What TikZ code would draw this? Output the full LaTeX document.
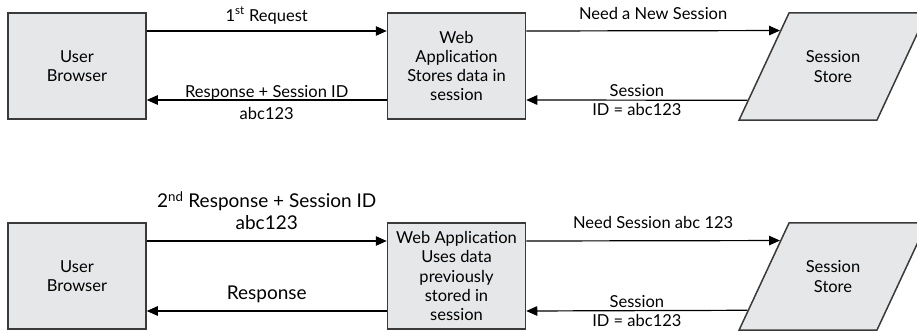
\documentclass[tikz,border=0pt]{standalone}
\usepackage{fontspec}
\setmainfont{Lato}
\usetikzlibrary{arrows.meta,shapes.geometric,calc}
\definecolor{boxgray}{HTML}{E6E7E8}
\definecolor{edgegray}{HTML}{3A3A3A}
\tikzset{
    box/.style={draw=edgegray,line width=1.5pt,fill=boxgray,minimum width=138,minimum height=106,
        align=center,inner sep=2pt,font=\fontsize{16.5}{19.3}\selectfont},
    store/.style={box,trapezium,trapezium left angle=65,trapezium right angle=115,
        trapezium stretches body=true,inner xsep=2pt,inner ysep=38pt,minimum width=188,minimum height=107},
    flow/.style={line width=1.2pt,-{Triangle[length=11pt,width=9.5pt]}},
    lbl/.style={font=\fontsize{16.5}{19}\selectfont,align=center},
    biglbl/.style={font=\fontsize{19}{22.5}\selectfont,align=center}
}
\begin{document}
\begin{tikzpicture}[x=1pt,y=-1pt]
    \useasboundingbox (0,0) rectangle (917,331);
    \foreach \row/\yc in {1/66,2/276} {
        \node[box] (user\row) at (77,\yc) {User\\Browser};
        \node[store] (store\row) at (833,\yc+0.5) {Session\\Store};
        \coordinate (in\row) at ($(store\row.bottom left corner)!0.83!(store\row.top left corner)$);
        \coordinate (out\row) at ($(store\row.bottom left corner)!0.19!(store\row.top left corner)$);
    }
    \node[box] (web1) at (456.5,66) {Web\\Application\\Stores data in\\session};
    \node[box] (web2) at (456.5,276) {Web Application\\Uses data\\previously\\stored in\\session};
    % first request
    \draw[flow] ([yshift=35pt]user1.east) -- node[lbl,above=3pt] {1\textsuperscript{st} Request} ([yshift=35pt]web1.west);
    \draw[flow] ([yshift=-34pt]web1.west) -- node[lbl,font=\fontsize{16.5}{22}\selectfont,yshift=-3pt] {Response + Session ID\\abc123} ([yshift=-34pt]user1.east);
    \draw[flow] ([yshift=35pt]web1.east) -- node[lbl,above=7pt] {Need a New Session} (in1);
    \draw[flow] (out1) -- node[lbl] {Session\\ID = abc123} ([yshift=-34pt]web1.east);
    % second request
    \draw[flow] ([yshift=35pt]user2.east) -- node[biglbl,above=7pt] {2\textsuperscript{nd} Response + Session ID\\abc123} ([yshift=35pt]web2.west);
    \draw[flow] ([yshift=-35pt]web2.west) -- node[biglbl,above=4pt] {Response} ([yshift=-35pt]user2.east);
    \draw[flow] ([yshift=35pt]web2.east) -- node[lbl,above=8pt] {Need Session abc 123} (in2);
    \draw[flow] (out2) -- node[lbl] {Session\\ID = abc123} ([yshift=-35pt]web2.east);
\end{tikzpicture}
\end{document}
